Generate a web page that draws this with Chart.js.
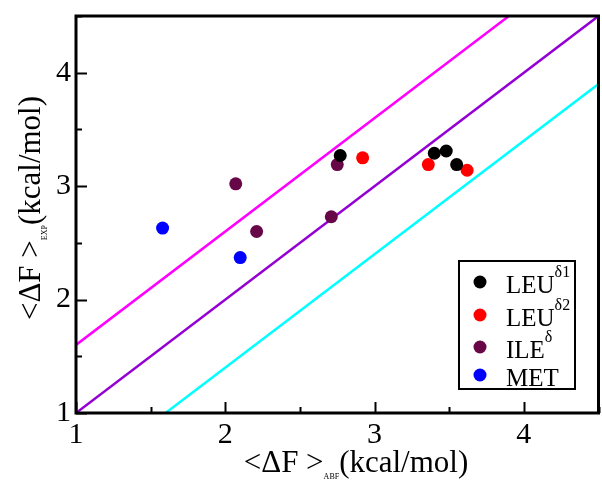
<!DOCTYPE html>
<html>
<head>
<meta charset="utf-8">
<script src="https://cdn.jsdelivr.net/npm/chart.js@4.4.1/dist/chart.umd.min.js"></script>
<style>
    html, body { margin: 0; padding: 0; background: #fff; overflow: hidden; }
    #box { width: 605px; height: 480px; }
</style>
</head>
<body>
<div id="box"><canvas id="grafico"></canvas></div>
<script>
// dados
const leu1X = [2.77, 3.40, 3.48, 3.55];
const leu1Y = [3.27, 3.29, 3.31, 3.19];
const leu2X = [2.92, 3.36, 3.62];
const leu2Y = [3.25, 3.19, 3.14];
const ileX = [2.07, 2.75, 2.21, 2.71];
const ileY = [3.02, 3.19, 2.60, 2.73];
const metX = [1.58, 2.10];
const metY = [2.63, 2.37];

// retas de referencia (pontos extremos)
const retaSupX = [1, 3.9];
const retaSupY = [1.6, 4.5];
const retaMeioX = [1, 4.5];
const retaMeioY = [1, 4.5];
const retaInfX = [1.6, 4.5];
const retaInfY = [1, 3.9];

const ticksX = [1, 2, 3, 4];
const ticksY = [1, 2, 3, 4];

const fonte = 'Liberation Serif';

function pontos(xs, ys) {
    return xs.map((x, i) => ({ x: x, y: ys[i] }));
}

function serie(label, sup, xs, ys, cor) {
    return {
        label: label,
        sup: sup,
        data: pontos(xs, ys),
        showLine: false,
        pointRadius: 6.5,
        pointHoverRadius: 6.5,
        pointBorderWidth: 0,
        pointBackgroundColor: cor,
        backgroundColor: cor,
        borderColor: cor,
        order: 1
    };
}

function reta(xs, ys, cor) {
    return {
        label: '',
        data: pontos(xs, ys),
        showLine: true,
        pointRadius: 0,
        borderWidth: 2.5,
        borderColor: cor,
        fill: false,
        order: 2
    };
}

// texto com indice (sub ou sobrescrito)
function textoComIndice(c, partes, x, y) {
    let px = x;
    partes.forEach(p => {
        c.font = p.size + 'px "' + fonte + '"';
        c.fillText(p.t, px, y + (p.dy || 0));
        px += c.measureText(p.t).width;
    });
    return px;
}

function larguraTexto(c, partes) {
    let w = 0;
    partes.forEach(p => {
        c.font = p.size + 'px "' + fonte + '"';
        w += c.measureText(p.t).width;
    });
    return w;
}

function semPadding(s) {
    s.paddingLeft = 0;
    s.paddingRight = 0;
    s.paddingTop = 0;
    s.paddingBottom = 0;
}

const moldura = {
    id: 'moldura',
    afterDatasetsDraw(chart) {
        const c = chart.ctx;
        const a = chart.chartArea;
        const sx = chart.scales.x;
        const sy = chart.scales.y;
        c.save();
        c.strokeStyle = '#000';

        // ticks para dentro
        c.lineWidth = 2;
        for (let v = 1; v <= 4.5; v += 0.5) {
            const len = Number.isInteger(v) ? 11 : 6;
            const px = Math.round(sx.getPixelForValue(v)) + 0.5;
            c.beginPath();
            c.moveTo(px, a.bottom);
            c.lineTo(px, a.bottom - len);
            c.stroke();
            const py = Math.round(sy.getPixelForValue(v)) + 0.5;
            c.beginPath();
            c.moveTo(a.left, py);
            c.lineTo(a.left + len, py);
            c.stroke();
        }

        // moldura
        c.lineWidth = 3;
        c.strokeRect(a.left, a.top, a.right - a.left, a.bottom - a.top);

        // legenda
        const lx = 459, ly = 261, lw = 116, lh = 128;
        c.fillStyle = '#fff';
        c.fillRect(lx, ly, lw, lh);
        c.lineWidth = 2;
        c.strokeRect(lx, ly, lw, lh);
        const linhas = [282, 315, 347, 375];
        const ds = chart.data.datasets.filter(d => d.order === 1);
        ds.forEach((d, i) => {
            const yy = linhas[i];
            c.fillStyle = d.pointBackgroundColor;
            c.beginPath();
            c.arc(480, yy, 6.5, 0, Math.PI * 2);
            c.fill();
            c.fillStyle = '#000';
            c.textBaseline = 'alphabetic';
            c.textAlign = 'left';
            const partes = [{ t: d.label, size: 25, dy: 0 }];
            if (d.sup) partes.push({ t: d.sup, size: 16, dy: -16 });
            textoComIndice(c, partes, 506, yy + 11);
        });

        // titulo eixo x
        c.fillStyle = '#000';
        c.textAlign = 'left';
        c.textBaseline = 'alphabetic';
        const tx = [
            { t: '<ΔF >', size: 31 },
            { t: 'ABF', size: 8, dy: 7 },
            { t: '(kcal/mol)', size: 31 }
        ];
        const wx = larguraTexto(c, tx);
        textoComIndice(c, tx, 356 - wx / 2, 472);

        // titulo eixo y
        c.translate(40, 208);
        c.rotate(-Math.PI / 2);
        const ty = [
            { t: '<ΔF >', size: 31 },
            { t: 'EXP', size: 8, dy: 7 },
            { t: '(kcal/mol)', size: 31 }
        ];
        const wy = larguraTexto(c, ty);
        textoComIndice(c, ty, -wy / 2, 0);
        c.restore();
    }
};

const ctx = document.getElementById('grafico');

new Chart(ctx, {
    type: 'scatter',
    data: {
        datasets: [
            serie('LEU', 'δ1', leu1X, leu1Y, '#000000'),
            serie('LEU', 'δ2', leu2X, leu2Y, '#ff0000'),
            serie('ILE', 'δ', ileX, ileY, '#670748'),
            serie('MET', '', metX, metY, '#0000ff'),
            reta(retaSupX, retaSupY, '#ff00ff'),
            reta(retaMeioX, retaMeioY, '#9400d3'),
            reta(retaInfX, retaInfY, '#00ffff')
        ]
    },
    options: {
        responsive: true,
        maintainAspectRatio: false,
        animation: false,
        layout: { padding: { top: 16, right: 1, left: 0, bottom: 0 } },
        scales: {
            x: {
                type: 'linear',
                min: 1,
                max: 4.5,
                grid: { display: false, drawTicks: false },
                border: { display: false },
                afterBuildTicks: s => { s.ticks = ticksX.map(v => ({ value: v })); },
                afterFit: s => { s.height = 67; semPadding(s); },
                ticks: {
                    padding: 4,
                    maxRotation: 0,
                    color: '#000',
                    font: { family: '"' + fonte + '"', size: 30 },
                    callback: v => String(v)
                }
            },
            y: {
                type: 'linear',
                min: 1,
                max: 4.5,
                grid: { display: false, drawTicks: false },
                border: { display: false },
                afterBuildTicks: s => { s.ticks = ticksY.map(v => ({ value: v })); },
                afterFit: s => { s.width = 76; semPadding(s); },
                ticks: {
                    padding: 5,
                    color: '#000',
                    font: { family: '"' + fonte + '"', size: 30 },
                    callback: v => String(v)
                }
            }
        },
        plugins: {
            legend: { display: false },
            tooltip: { enabled: false }
        }
    },
    plugins: [moldura]
});
</script>
</body>
</html>
